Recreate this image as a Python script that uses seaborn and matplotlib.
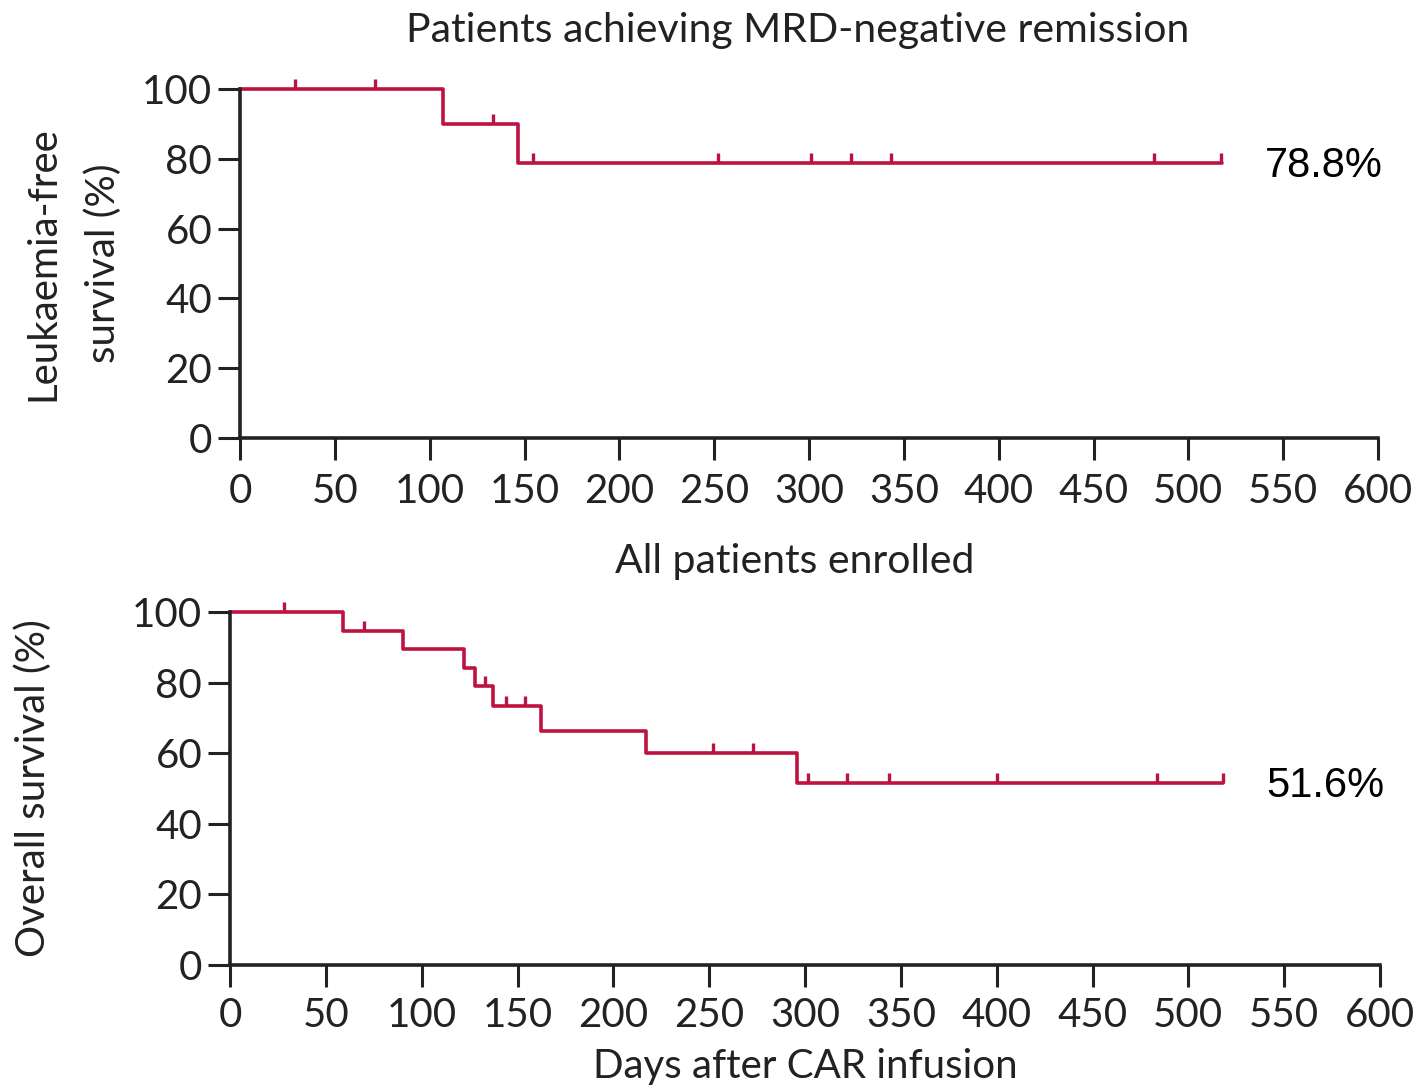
import numpy as np
import pandas as pd
import matplotlib
matplotlib.use("Agg")
import matplotlib.pyplot as plt
import matplotlib.transforms as mtransforms
import seaborn as sns

# ---- data ----
lfs_times = [0, 107, 146.5, 518]
lfs_surv = [100, 90, 78.8, 78.8]
lfs_censor = [29, 71, 133.5, 154.5, 252, 301, 322, 343, 482, 517]

os_times = [0, 59, 90, 122, 128, 137, 162, 217, 296, 518]
os_surv = [100, 94.7, 89.5, 84.2, 78.9, 73.4, 66.3, 60.0, 51.6, 51.6]
os_censor = [28, 70, 133, 144, 154, 252, 273, 301.5, 322, 344, 400, 483.5, 518]

titles = ["Patients achieving MRD-negative remission", "All patients enrolled"]
ylabels = ["Leukaemia-free\nsurvival (%)", "Overall survival (%)"]
final_labels = ["78.8%", "51.6%"]
xticks = list(range(0, 601, 50))
yticks = list(range(0, 101, 20))

RED = "#BE1340"
DARK = "#222222"
sns.set_theme(style="ticks")
plt.rcParams["font.family"] = ["Lato", "DejaVu Sans"]

fig = plt.figure(figsize=(14.25, 10.87), dpi=100)
ax1 = fig.add_axes([240/1425, 1-438/1087, (1378-240)/1425, (438-89)/1087])
ax2 = fig.add_axes([230/1425, 1-965/1087, (1380-230)/1425, (965-612)/1087])


def step_at(times, surv, t):
    idx = np.searchsorted(np.asarray(times), t, side="right") - 1
    return np.asarray(surv)[np.clip(idx, 0, len(surv)-1)]


panels = [(ax1, lfs_times, lfs_surv, lfs_censor),
          (ax2, os_times, os_surv, os_censor)]
title_pads = [34, 28]
title_x = [0.490, 0.491]
for i, (ax, t, s, c) in enumerate(panels):
    df = pd.DataFrame({"t": t, "s": s})
    sns.lineplot(data=df, x="t", y="s", ax=ax, color=RED, lw=2.6,
                 drawstyle="steps-post", estimator=None, sort=False,
                 clip_on=False)
    cdf = pd.DataFrame({"t": c, "s": step_at(t, s, np.asarray(c))})
    sns.lineplot(data=cdf, x="t", y="s", ax=ax, color=RED, linestyle="none",
                 marker=2, markersize=7, markeredgewidth=2.4,
                 markeredgecolor=RED, markerfacecolor=RED,
                 estimator=None, sort=False, clip_on=False)
    ax.set_xlim(0, 600)
    ax.set_ylim(0, 100)
    ax.set_xticks(xticks)
    ax.set_yticks(yticks)
    ax.tick_params(axis="both", length=16, width=2.2, labelsize=29,
                   color=DARK, labelcolor=DARK)
    ax.tick_params(axis="x", pad=9 if i == 0 else 7)
    ax.tick_params(axis="y", pad=4)
    for sp in ["left", "bottom"]:
        ax.spines[sp].set_linewidth(2.6)
        ax.spines[sp].set_color(DARK)
    sns.despine(ax=ax)
    ax.set_ylabel(ylabels[i], fontsize=29, color=DARK, linespacing=1.75)
    ax.set_xlabel("")
    ax.set_title(titles[i], fontsize=29.5, color=DARK, pad=title_pads[i],
                 x=title_x[i])
    tr = mtransforms.blended_transform_factory(ax.transAxes, ax.transData)
    ax.text(0.901, step_at(t, s, 515) - 1.0, final_labels[i],
            transform=tr, fontsize=30,
            family=["Liberation Sans", "DejaVu Sans"],
            ha="left", va="center", color="black")

ax2.set_xlabel("Days after CAR infusion", fontsize=29, color=DARK, labelpad=10)

ax1.yaxis.set_label_coords(-0.104, 0.5)
ax2.yaxis.set_label_coords(-0.155, 0.5)

fig.savefig("out.png", dpi=100)
